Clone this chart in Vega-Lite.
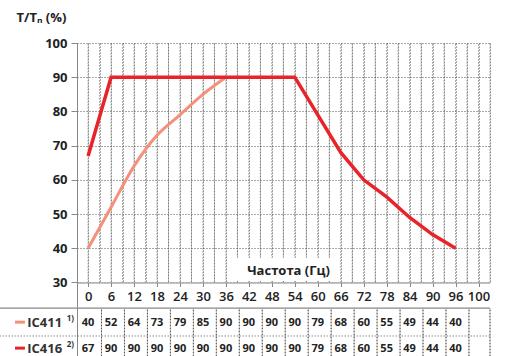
{
  "$schema": "https://vega.github.io/schema/vega-lite/v6.json",
  "autosize": "none",
  "width": 413,
  "height": 313,
  "padding": {"left": 77, "top": 43, "right": 16, "bottom": 0},
  "background": "white",
  "config": {
    "view": {"stroke": null},
    "font": "Open Sans"
  },
  "resolve": {"axis": {"x": "independent", "y": "independent"}},
  "datasets": {
    "torque": [
      {"series": "IC411", "freq": 0, "value": 40},
      {"series": "IC411", "freq": 6, "value": 52},
      {"series": "IC411", "freq": 12, "value": 64},
      {"series": "IC411", "freq": 18, "value": 73},
      {"series": "IC411", "freq": 24, "value": 79},
      {"series": "IC411", "freq": 30, "value": 85},
      {"series": "IC411", "freq": 36, "value": 90},
      {"series": "IC411", "freq": 42, "value": 90},
      {"series": "IC411", "freq": 48, "value": 90},
      {"series": "IC411", "freq": 54, "value": 90},
      {"series": "IC411", "freq": 60, "value": 79},
      {"series": "IC411", "freq": 66, "value": 68},
      {"series": "IC411", "freq": 72, "value": 60},
      {"series": "IC411", "freq": 78, "value": 55},
      {"series": "IC411", "freq": 84, "value": 49},
      {"series": "IC411", "freq": 90, "value": 44},
      {"series": "IC411", "freq": 96, "value": 40},
      {"series": "IC416", "freq": 0, "value": 67},
      {"series": "IC416", "freq": 6, "value": 90},
      {"series": "IC416", "freq": 12, "value": 90},
      {"series": "IC416", "freq": 18, "value": 90},
      {"series": "IC416", "freq": 24, "value": 90},
      {"series": "IC416", "freq": 30, "value": 90},
      {"series": "IC416", "freq": 36, "value": 90},
      {"series": "IC416", "freq": 42, "value": 90},
      {"series": "IC416", "freq": 48, "value": 90},
      {"series": "IC416", "freq": 54, "value": 90},
      {"series": "IC416", "freq": 60, "value": 79},
      {"series": "IC416", "freq": 66, "value": 68},
      {"series": "IC416", "freq": 72, "value": 60},
      {"series": "IC416", "freq": 78, "value": 55},
      {"series": "IC416", "freq": 84, "value": 49},
      {"series": "IC416", "freq": 90, "value": 44},
      {"series": "IC416", "freq": 96, "value": 40}
    ],
    "gridx": [
      {"g": 0}, {"g": 3}, {"g": 6}, {"g": 9}, {"g": 12}, {"g": 15},
      {"g": 18}, {"g": 21}, {"g": 24}, {"g": 27}, {"g": 30}, {"g": 33},
      {"g": 36}, {"g": 39}, {"g": 42}, {"g": 45}, {"g": 48}, {"g": 51},
      {"g": 54}, {"g": 57}, {"g": 60}, {"g": 63}, {"g": 66}, {"g": 69},
      {"g": 72}, {"g": 75}, {"g": 78}, {"g": 81}, {"g": 84}, {"g": 87},
      {"g": 90}, {"g": 93}, {"g": 96}, {"g": 99}, {"g": 102}, {"g": 105}
    ],
    "gridt": [
      {"g": 3.5}, {"g": 9.5}, {"g": 15.5}, {"g": 21.5}, {"g": 27.5},
      {"g": 33.5}, {"g": 39.5}, {"g": 45.5}, {"g": 51.5}, {"g": 57.5},
      {"g": 63.5}, {"g": 69.5}, {"g": 75.5}, {"g": 81.5}, {"g": 87.5},
      {"g": 93.5}, {"g": 99.5}, {"g": 105}
    ],
    "one": [{}]
  },
  "layer": [
    {
      "data": {"name": "torque"},
      "transform": [{"filter": "datum.series == 'IC416'"}],
      "mark": {"type": "point", "opacity": 0},
      "encoding": {
        "x": {
          "field": "freq", "type": "quantitative",
          "scale": {"domain": [-2.9, 105], "nice": false, "zero": false},
          "axis": {
            "orient": "bottom",
            "offset": -73.5,
            "values": [0, 6, 12, 18, 24, 30, 36, 42, 48, 54, 60, 66, 72, 78, 84, 90, 96, 102],
            "labelExpr": "datum.value == 102 ? '100' : datum.label",
            "grid": false,
            "domainColor": "#888888",
            "tickColor": "#888888",
            "tickSize": 4,
            "labelFont": "Open Sans",
            "labelFontSize": 13,
            "labelFontWeight": 600,
            "labelColor": "#222222",
            "labelPadding": 4,
            "labelOverlap": false,
            "labelFlush": false,
            "labelBound": false,
            "title": "Частота (Гц)",
            "titleFont": "Open Sans",
            "titleFontSize": 13,
            "titleFontWeight": "bold",
            "titleColor": "#222222",
            "titleX": 211,
            "titleY": -12,
            "titleBaseline": "middle",
            "zindex": 1
          }
        },
        "y": {
          "field": "value", "type": "quantitative",
          "scale": {"domain": [8.5, 100], "nice": false, "zero": false},
          "axis": {
            "values": [30, 40, 50, 60, 70, 80, 90, 100],
            "grid": true,
            "gridColor": "#555555",
            "gridDash": [1, 2],
            "gridWidth": 1,
            "domainColor": "#888888",
            "tickColor": "#888888",
            "tickSize": 6,
            "labelFont": "Open Sans",
            "labelFontSize": 13,
            "labelFontWeight": "bold",
            "labelColor": "#222222",
            "labelPadding": 4,
            "title": "T/Tₙ (%)",
            "titleFont": "Open Sans",
            "titleFontSize": 13,
            "titleFontWeight": "bold",
            "titleColor": "#222222",
            "titleAngle": 0,
            "titleAlign": "left",
            "titleBaseline": "middle",
            "titleX": -61,
            "titleY": -26
          }
        }
      }
    },
    {
      "data": {"name": "gridx"},
      "mark": {"type": "rule", "color": "#555555", "strokeWidth": 1, "strokeDash": [1, 2], "invalid": null},
      "encoding": {
        "x": {
          "field": "g", "type": "quantitative",
          "axis": {
            "orient": "bottom",
            "values": [0, 3, 6, 9, 12, 15, 18, 21, 24, 27, 30, 33, 36, 39, 42, 45, 48, 51, 54, 57, 60, 63, 66, 69, 72, 75, 78, 81, 84, 87, 90, 93, 96, 99, 102, 105],
            "grid": true,
            "gridColor": "#555555",
            "gridDash": [1, 2],
            "gridWidth": 1,
            "labels": false,
            "ticks": false,
            "domain": false,
            "title": null
          }
        },
        "y": {"datum": 30, "type": "quantitative", "axis": null},
        "y2": {"datum": 100}
      }
    },
    {
      "data": {"name": "one"},
      "mark": {"type": "rect", "color": "white"},
      "encoding": {
        "x": {"datum": -2.5, "type": "quantitative", "axis": null},
        "x2": {"datum": 106},
        "y": {"datum": 8.5, "type": "quantitative", "axis": null},
        "y2": {"datum": 30}
      }
    },
    {
      "data": {"name": "gridt"},
      "mark": {"type": "tick", "orient": "vertical", "color": "#b0b0b0", "thickness": 1, "size": 48, "opacity": 1, "invalid": null},
      "encoding": {
        "x": {"field": "g", "type": "quantitative", "axis": null},
        "y": {"datum": 15.5, "type": "quantitative", "axis": null}
      }
    },
    {
      "data": {"name": "gridt"},
      "mark": {"type": "rule", "color": "#555555", "strokeWidth": 1, "strokeDash": [1, 2], "invalid": null},
      "encoding": {
        "x": {"field": "g", "type": "quantitative", "axis": null},
        "y": {"datum": 8.5, "type": "quantitative", "axis": null},
        "y2": {"datum": 22.5}
      }
    },
    {
      "data": {"name": "one"},
      "mark": {"type": "rule", "color": "#888888", "strokeWidth": 1.2},
      "encoding": {
        "x": {"datum": -23.1, "type": "quantitative", "axis": null},
        "x2": {"datum": 105},
        "y": {"datum": 22.5, "type": "quantitative", "axis": null}
      }
    },
    {
      "data": {"name": "one"},
      "mark": {"type": "rule", "color": "#555555", "strokeWidth": 1, "strokeDash": [1, 2]},
      "encoding": {
        "x": {"datum": -23.1, "type": "quantitative", "axis": null},
        "x2": {"datum": 105},
        "y": {"datum": 14.35, "type": "quantitative", "axis": null}
      }
    },
    {
      "data": {"name": "one"},
      "mark": {"type": "rect", "color": "white"},
      "encoding": {
        "x": {"datum": 38, "type": "quantitative", "axis": null},
        "x2": {"datum": 65},
        "y": {"datum": 30.4, "type": "quantitative", "axis": null},
        "y2": {"datum": 37.2}
      }
    },
    {
      "data": {"name": "torque"},
      "transform": [{"filter": "datum.series == 'IC411' && datum.freq <= 36"}],
      "mark": {"type": "line", "color": "#f3917a", "strokeWidth": 3, "interpolate": "monotone"},
      "encoding": {
        "x": {"field": "freq", "type": "quantitative", "axis": null},
        "y": {"field": "value", "type": "quantitative", "axis": null}
      }
    },
    {
      "data": {"name": "torque"},
      "transform": [{"filter": "datum.series == 'IC416'"}],
      "mark": {"type": "line", "color": "#e8232a", "strokeWidth": 3.5},
      "encoding": {
        "x": {"field": "freq", "type": "quantitative", "axis": null},
        "y": {"field": "value", "type": "quantitative", "axis": null}
      }
    },
    {
      "data": {"name": "torque"},
      "transform": [{"filter": "datum.series == 'IC411'"}],
      "mark": {"type": "text", "font": "Open Sans", "fontSize": 11, "fontWeight": "bold", "color": "#222222", "baseline": "middle"},
      "encoding": {
        "x": {"field": "freq", "type": "quantitative", "axis": null},
        "y": {"datum": 18.15, "type": "quantitative", "axis": null},
        "text": {"field": "value", "type": "quantitative"}
      }
    },
    {
      "data": {"name": "torque"},
      "transform": [{"filter": "datum.series == 'IC416'"}],
      "mark": {"type": "text", "font": "Open Sans", "fontSize": 11, "fontWeight": "bold", "color": "#222222", "baseline": "middle"},
      "encoding": {
        "x": {"field": "freq", "type": "quantitative", "axis": null},
        "y": {"datum": 10.55, "type": "quantitative", "axis": null},
        "text": {"field": "value", "type": "quantitative"}
      }
    },
    {
      "data": {"name": "one"},
      "mark": {"type": "rule", "color": "#f3917a", "strokeWidth": 3},
      "encoding": {
        "x": {"datum": -19.1, "type": "quantitative", "axis": null},
        "x2": {"datum": -16.5},
        "y": {"datum": 18.4, "type": "quantitative", "axis": null}
      }
    },
    {
      "data": {"name": "one"},
      "mark": {"type": "rule", "color": "#e8232a", "strokeWidth": 3},
      "encoding": {
        "x": {"datum": -19.1, "type": "quantitative", "axis": null},
        "x2": {"datum": -16.5},
        "y": {"datum": 10.8, "type": "quantitative", "axis": null}
      }
    },
    {
      "data": {"name": "one"},
      "mark": {"type": "text", "font": "Open Sans", "fontSize": 13, "fontWeight": "bold", "color": "#333333", "align": "left", "baseline": "middle", "text": "IC411"},
      "encoding": {
        "x": {"datum": -15.9, "type": "quantitative", "axis": null},
        "y": {"datum": 18.15, "type": "quantitative", "axis": null}
      }
    },
    {
      "data": {"name": "one"},
      "mark": {"type": "text", "font": "Open Sans", "fontSize": 13, "fontWeight": "bold", "color": "#333333", "align": "left", "baseline": "middle", "text": "IC416"},
      "encoding": {
        "x": {"datum": -15.9, "type": "quantitative", "axis": null},
        "y": {"datum": 10.55, "type": "quantitative", "axis": null}
      }
    },
    {
      "data": {"name": "one"},
      "mark": {"type": "text", "font": "Open Sans", "fontSize": 8, "fontWeight": "bold", "color": "#333333", "align": "left", "baseline": "middle", "dy": -4, "text": "1)"},
      "encoding": {
        "x": {"datum": -5.6, "type": "quantitative", "axis": null},
        "y": {"datum": 18.15, "type": "quantitative", "axis": null}
      }
    },
    {
      "data": {"name": "one"},
      "mark": {"type": "text", "font": "Open Sans", "fontSize": 8, "fontWeight": "bold", "color": "#333333", "align": "left", "baseline": "middle", "dy": -4, "text": "2)"},
      "encoding": {
        "x": {"datum": -5.6, "type": "quantitative", "axis": null},
        "y": {"datum": 10.55, "type": "quantitative", "axis": null}
      }
    }
  ]
}
